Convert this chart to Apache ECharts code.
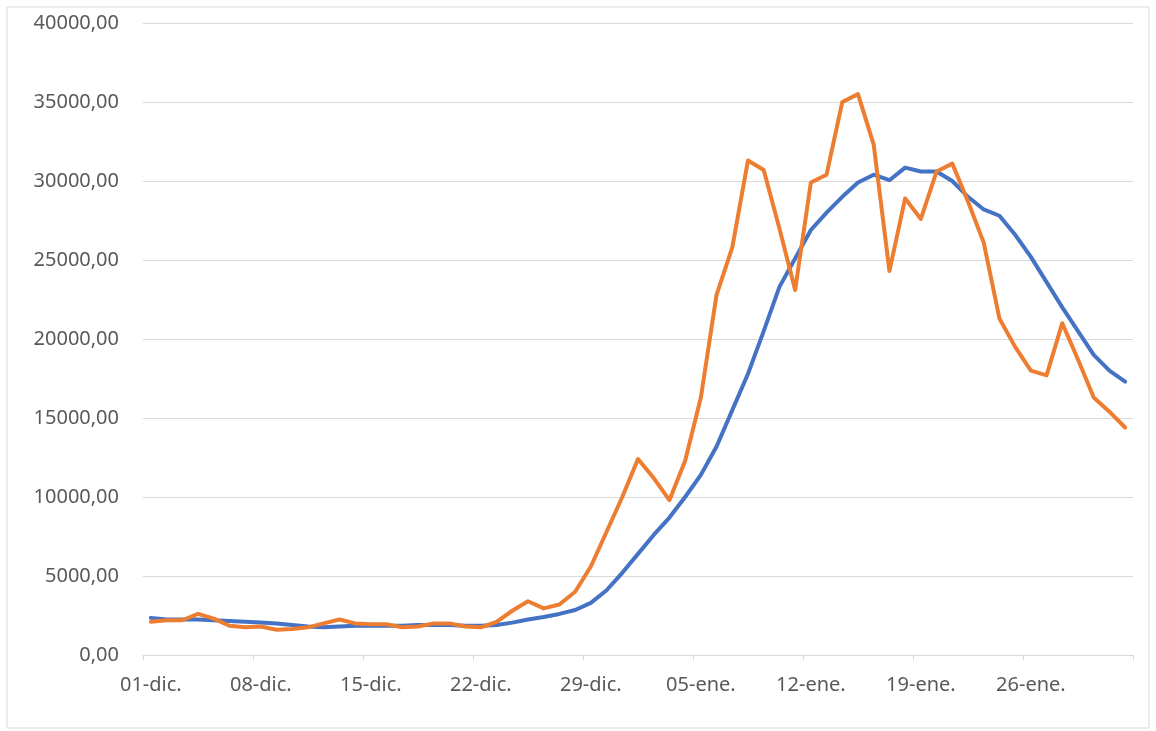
<!DOCTYPE html>
<html>
<head>
<meta charset="utf-8">
<script src="https://cdn.jsdelivr.net/npm/echarts@6/dist/echarts.min.js"></script>
<style>
html,body{margin:0;padding:0;background:#fff;}
#c{width:1156px;height:731px;}
</style>
</head>
<body>
<div id="c"></div>
<script>
var categories = [
'01-dic.','02-dic.','03-dic.','04-dic.','05-dic.','06-dic.','07-dic.','08-dic.','09-dic.','10-dic.',
'11-dic.','12-dic.','13-dic.','14-dic.','15-dic.','16-dic.','17-dic.','18-dic.','19-dic.','20-dic.',
'21-dic.','22-dic.','23-dic.','24-dic.','25-dic.','26-dic.','27-dic.','28-dic.','29-dic.','30-dic.',
'31-dic.','01-ene.','02-ene.','03-ene.','04-ene.','05-ene.','06-ene.','07-ene.','08-ene.','09-ene.',
'10-ene.','11-ene.','12-ene.','13-ene.','14-ene.','15-ene.','16-ene.','17-ene.','18-ene.','19-ene.',
'20-ene.','21-ene.','22-ene.','23-ene.','24-ene.','25-ene.','26-ene.','27-ene.','28-ene.','29-ene.',
'30-ene.','31-ene.','01-feb.'
];

var blueSeries = [
2350,2250,2250,2250,2200,2150,2100,2050,2000,1900,
1800,1750,1800,1850,1850,1850,1850,1900,1900,1900,
1850,1850,1900,2050,2250,2400,2600,2850,3300,4100,
5200,6400,7600,8700,10000,11400,13200,15500,17800,20500,
23300,25100,26900,28000,29000,29900,30400,30050,30850,30600,
30600,30000,29000,28200,27800,26600,25200,23600,22000,20500,
19000,18000,17300
];

var orangeSeries = [
2100,2200,2200,2600,2300,1850,1750,1800,1600,1650,
1750,2000,2250,2000,1950,1950,1750,1800,2000,2000,
1800,1750,2100,2800,3400,2950,3200,4000,5600,7800,
10000,12400,11200,9800,12300,16300,22800,25800,31300,30700,
27000,23100,29900,30400,35000,35500,32300,24300,28900,27600,
30600,31100,28700,26100,21300,19500,18000,17700,21000,18700,
16300,15400,14400
];

var yMin = 0, yMax = 40000, yStep = 5000;

var chart = echarts.init(document.getElementById('c'), null, {renderer: 'canvas'});
var labelFont = {color: '#595959', fontSize: 20, fontFamily: 'Noto Sans'};
chart.setOption({
  animation: false,
  backgroundColor: '#ffffff',
  graphic: [{
    type: 'rect',
    shape: {x: 7, y: 7, width: 1142, height: 721},
    style: {fill: 'none', stroke: '#d9d9d9', lineWidth: 1},
    silent: true,
    z: -10
  }],
  grid: {left: 143, right: 23, top: 23, bottom: 76, containLabel: false},
  xAxis: {
    type: 'category',
    data: categories,
    boundaryGap: true,
    axisLine: {show: true, lineStyle: {color: '#d9d9d9', width: 1}},
    axisTick: {show: true, interval: 6, length: 5, lineStyle: {color: '#d9d9d9'}},
    axisLabel: Object.assign({interval: 6, margin: 20}, labelFont),
    splitLine: {show: false}
  },
  yAxis: {
    type: 'value',
    min: yMin, max: yMax, interval: yStep,
    axisLine: {show: false},
    axisTick: {show: false},
    axisLabel: Object.assign({margin: 24, formatter: function (v) { return v.toFixed(2).replace('.', ','); }}, labelFont),
    splitLine: {show: true, lineStyle: {color: '#d9d9d9', width: 1}}
  },
  series: [
    {
      type: 'line', data: blueSeries, showSymbol: false, smooth: false,
      lineStyle: {color: '#4472C4', width: 4, cap: 'round', join: 'round'},
      itemStyle: {color: '#4472C4'}
    },
    {
      type: 'line', data: orangeSeries, showSymbol: false, smooth: false,
      lineStyle: {color: '#ED7D31', width: 4, cap: 'round', join: 'round'},
      itemStyle: {color: '#ED7D31'}
    }
  ]
});
</script>
</body>
</html>
